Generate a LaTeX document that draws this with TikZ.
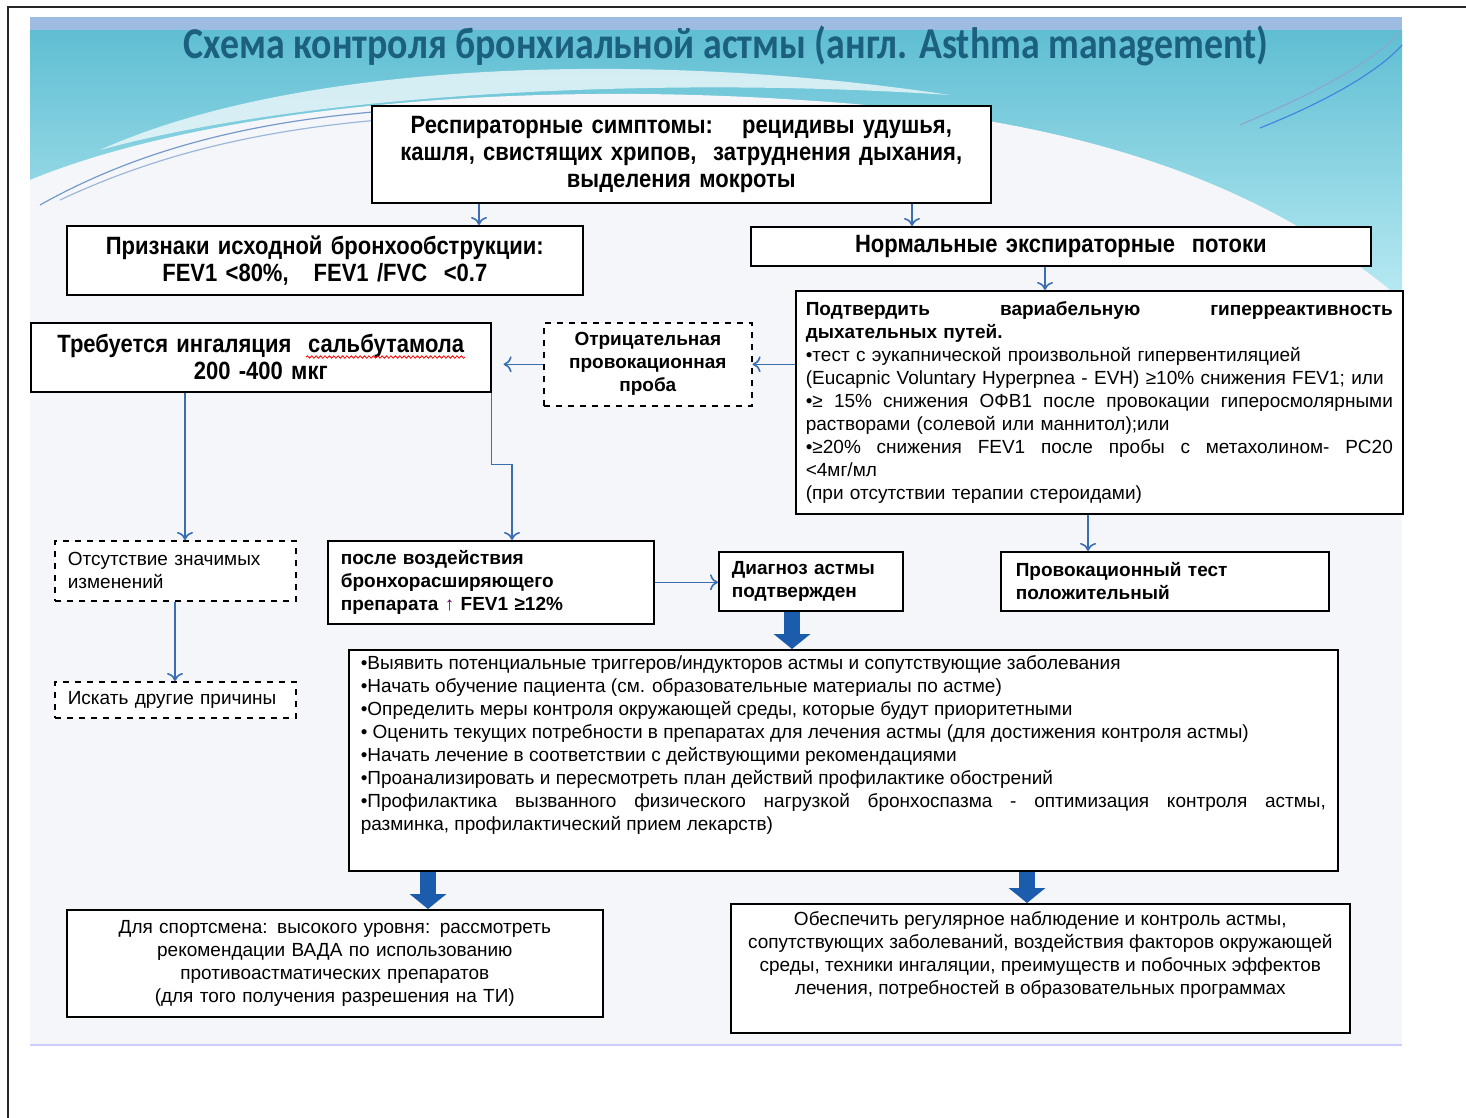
\documentclass[tikz,border=0pt]{standalone}
\usepackage{fontspec}
\setmainfont{Liberation Sans}
\newfontfamily\narrowfont[FakeStretch=0.88]{Liberation Sans}
\newfontfamily\titlefont[FakeStretch=0.86]{Carlito}
\usetikzlibrary{arrows.meta,shapes,decorations.pathmorphing,positioning}
\definecolor{linkblue}{RGB}{58,110,178}
\definecolor{fatblue}{RGB}{28,92,172}
\definecolor{titleteal}{RGB}{28,96,128}
\definecolor{bandblue}{RGB}{158,187,226}
\definecolor{headteal}{RGB}{95,190,210}
\definecolor{headcyan}{RGB}{185,234,243}
\definecolor{slidebg}{RGB}{244,246,249}
\newcommand{\jl}[1]{\makebox[\hsize][s]{\spaceskip=0pt\relax\xspaceskip=0pt\relax #1}}

\begin{document}
\begin{tikzpicture}[x=0.5pt,y=-0.5pt,>={To[length=4pt,width=8pt]}]
  \tikzstyle{box}=[rectangle,draw=black,line width=0.8pt,fill=white,anchor=north west,inner sep=0pt]
  \tikzstyle{bigbox}=[box,align=center,font=\narrowfont\bfseries\fontsize{12.5}{13.5}\selectfont]
  \tikzstyle{smallbox}=[box,inner xsep=6.5pt,align=left,font=\fontsize{9.5}{11.5}\selectfont]
  \tikzstyle{boldbox}=[smallbox,font=\bfseries\fontsize{9.5}{11.5}\selectfont]
  \tikzstyle{dashbox}=[smallbox,dashed]
  \tikzstyle{conn}=[draw=linkblue,line width=0.8pt,->]
  \tikzstyle{fat}=[fatblue,line width=8pt,-{Triangle[length=7.5pt,width=18pt]}]

  \useasboundingbox (0,0) rectangle (1466,1118);

  % slide and header
  \fill[slidebg] (30,17) rectangle (1402,1045);
  \shade[top color=headteal,bottom color=headcyan] (30,30) rectangle (1402,300);
  \fill[slidebg] (30,180) .. controls (200,110) and (500,80) .. (800,100)
    .. controls (1050,115) and (1250,170) .. (1402,300) -- (1402,330) -- (30,330) -- cycle;
  \fill[white,opacity=0.7] (100,150) .. controls (300,60) and (650,50) .. (950,95)
    .. controls (650,75) and (300,95) .. (100,150) -- cycle;
  \draw[linkblue!70,line width=0.6pt] (40,205) .. controls (200,115) and (400,95) .. (680,112);
  \draw[linkblue!50,line width=0.6pt] (60,200) .. controls (230,120) and (420,105) .. (700,118);
  \draw[linkblue!60,line width=0.6pt] (1240,125) .. controls (1310,95) and (1370,65) .. (1400,32);
  \draw[headteal!70!blue,line width=0.6pt] (1260,128) .. controls (1330,100) and (1380,70) .. (1402,45);
  \fill[bandblue] (30,17) rectangle (1402,30);
  \draw[blue!20,line width=1pt] (30,1045) -- (1402,1045);
  \draw[black!85,line width=1.2pt] (8,1118) -- (8,7) -- (1466,7);

  \node[text=titleteal,font=\titlefont\bfseries\fontsize{22}{24}\selectfont] (title) at (726,46)
    {Схема контроля бронхиальной астмы (англ. Asthma management)};

  \begin{scope}
    % boxes
    \node[bigbox,minimum width=309.5pt,minimum height=48.5pt,text width=300pt] (resp) at (371,105)
      {Респираторные симптомы:~~ рецидивы удушья,\\ кашля, свистящих хрипов,~ затруднения дыхания,\\ выделения мокроты};
    \node[bigbox,minimum width=258pt,minimum height=34.5pt,text width=250pt] (signs) at (66,225)
      {Признаки исходной бронхообструкции:\\ FEV1 <80\%,\quad FEV1 /FVC~ <0.7};
    \node[bigbox,minimum width=310pt,minimum height=19.5pt,text width=300pt] (normal) at (750,226)
      {Нормальные экспираторные~ потоки};
    \node[smallbox,inner xsep=5pt,minimum height=111.5pt,text width=293.5pt] (confirm) at (795,290)
      {\textbf{\jl{Подтвердить вариабельную гиперреактивность}}\\
       \textbf{дыхательных путей.}\\
       •тест с эукапнической произвольной гипервентиляцией\\
       (Eucapnic Voluntary Hyperpnea - EVH) ≥10\% снижения FEV1; или\\
       \jl{•≥ 15\% снижения ОФВ1 после провокации гиперосмолярными}\\
       растворами (солевой или маннитол);или\\
       \jl{•≥20\% снижения FEV1 после пробы с метахолином- PC20}\\
       <4мг/мл\\
       (при отсутствии терапии стероидами)};
    \node[bigbox,minimum width=230pt,minimum height=34.5pt,text width=225pt] (salb) at (30,322)
      {Требуется ингаляция~ сальбутамола\\ 200 -400 мкг};
    \node[boldbox,dashed,align=center,inner xsep=2pt,minimum height=41.5pt,text width=100pt] (neg) at (543,322)
      {Отрицательная\\ провокационная\\ проба};
    \node[dashbox,minimum height=30pt,text width=107.5pt] (nochange) at (54,540)
      {Отсутствие значимых\\ изменений};
    \node[boldbox,minimum height=41.5pt,text width=150pt] (after) at (327,540)
      {после воздействия\\ бронхорасширяющего\\ препарата {\color{violet!70!black}↑} FEV1 ≥12\%};
    \node[boldbox,minimum height=29.5pt,text width=79pt] (diag) at (718,551)
      {Диагноз астмы\\ подтвержден};
    \node[boldbox,inner xsep=7.5pt,minimum height=29.5pt,text width=149pt] (prov) at (1000,551)
      {Провокационный тест\\ положительный};
    \node[dashbox,minimum height=18pt,text width=107.5pt] (other) at (54,681)
      {Искать другие причины};
    \node[smallbox,inner xsep=6pt,inner ysep=3pt] (acts) at (348,649)
      {\parbox[c][104.5pt][t]{482.5pt}{\raggedright
       •Выявить потенциальные триггеров/индукторов астмы и сопутствующие заболевания\\
       •Начать обучение пациента (см. образовательные материалы по астме)\\
       •Определить меры контроля окружающей среды, которые будут приоритетными\\
       • Оценить текущих потребности в препаратах для лечения астмы (для достижения контроля астмы)\\
       •Начать лечение в соответствии с действующими рекомендациями\\
       •Проанализировать и пересмотреть план действий профилактике обострений\\
       \jl{•Профилактика вызванного физического нагрузкой бронхоспазма - оптимизация контроля астмы,}\\
       разминка, профилактический прием лекарств)}};
    \node[smallbox,align=center,minimum height=53.5pt,minimum width=266.5pt,text width=255pt] (athlete) at (66,909)
      {Для спортсмена: высокого уровня: рассмотреть\\ рекомендации ВАДА по использованию\\
       противоастматических препаратов\\ (для того получения разрешения на ТИ)};
    \node[smallbox,inner xsep=4pt,inner ysep=4pt] (monitor) at (730,903)
      {\parbox[c][56.5pt][t]{301.5pt}{\centering
       Обеспечить регулярное наблюдение и контроль астмы,\\ сопутствующих заболеваний, воздействия факторов окружающей\\
       среды, техники ингаляции, преимуществ и побочных эффектов\\ лечения, потребностей в образовательных программах}};
  \end{scope}

  % spell-check mark
  \draw[red,line width=0.4pt,decorate,decoration={snake,amplitude=0.6pt,segment length=2.2pt}] (306,357) -- (465,357);

  \begin{scope}
    \draw[conn] (479,0 |- resp.south) -- (479,0 |- signs.north);
    \draw[conn] (912,0 |- resp.south) -- (912,0 |- normal.north);
    \draw[conn] (1045,0 |- normal.south) -- (1045,0 |- confirm.north);
    \draw[conn] (neg.east -| confirm.west) -- (neg.east);
    \draw[conn,shorten >=6pt] (neg.west) -- (neg.west -| salb.east);
    \draw[conn] (185,0 |- salb.south) -- (185,0 |- nochange.north);
    \draw[conn] (salb.south east) -- ++(0,72) -| (512,0 |- after.north);
    \draw[conn] (175,0 |- nochange.south) -- (175,0 |- other.north);
    \draw[conn] (after.east) -- (after.east -| diag.west);
    \draw[conn] (1088,0 |- confirm.south) -- (1088,0 |- prov.north);
    \draw[fat] (792,0 |- diag.south) -- (792,0 |- acts.north);
    \draw[fat] (428,0 |- acts.south) -- (428,0 |- athlete.north);
    \draw[fat] (1027,0 |- acts.south) -- (1027,0 |- monitor.north);
  \end{scope}
\end{tikzpicture}
\end{document}
